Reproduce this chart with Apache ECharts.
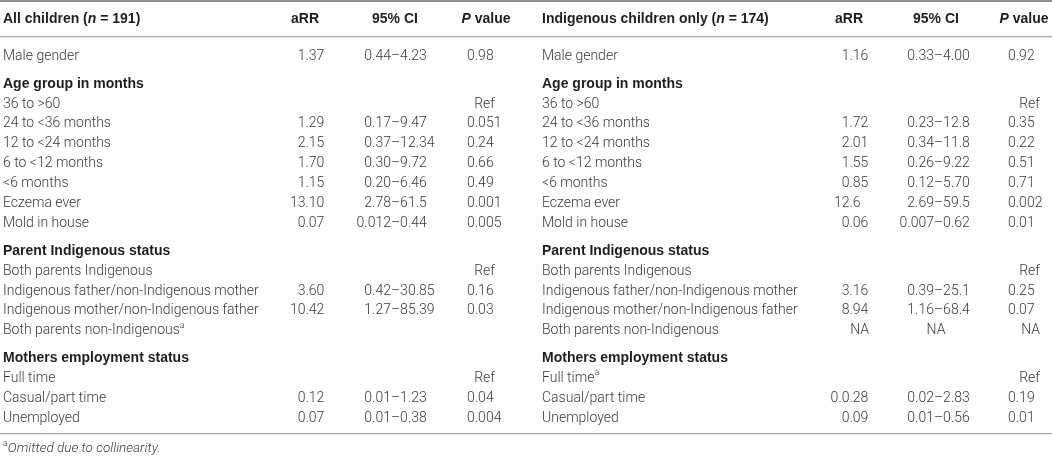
<!DOCTYPE html>
<html><head><meta charset="utf-8">
<script src="https://cdn.jsdelivr.net/npm/echarts@6/dist/echarts.min.js"></script>
<style>html,body{margin:0;padding:0;background:#fff}#c{width:1052px;height:456px}</style>
</head><body><div id="c"></div>
<script>
// ---------- data ----------
const rowLabels = ['Male gender','Age group in months','36 to >60','24 to <36 months','12 to <24 months','6 to <12 months','<6 months','Eczema ever','Mold in house','Parent Indigenous status','Both parents Indigenous','Indigenous father/non-Indigenous mother','Indigenous mother/non-Indigenous father','Both parents non-Indigenous','Mothers employment status','Full time','Casual/part time','Unemployed'];
const sectionRows = [1, 9, 14];
const allNoteRows = [13];
const indNoteRows = [15];
const allTitle = 'All children';
const allN = 191;
const indTitle = 'Indigenous children only';
const indN = 174;
const colHeads = ['aRR', '95% CI', 'P value'];
const allARR = ['1.37','','','1.29','2.15','1.70','1.15','13.10','0.07','','','3.60','10.42','','','','0.12','0.07'];
const allCI  = ['0.44–4.23','','','0.17–9.47','0.37–12.34','0.30–9.72','0.20–6.46','2.78–61.5','0.012–0.44','','','0.42–30.85','1.27–85.39','','','','0.01–1.23','0.01–0.38'];
const allP   = ['0.98','','Ref','0.051','0.24','0.66','0.49','0.001','0.005','','Ref','0.16','0.03','','','Ref','0.04','0.004'];
const indARR = ['1.16','','','1.72','2.01','1.55','0.85','12.6','0.06','','','3.16','8.94','NA','','','0.0.28','0.09'];
const indCI  = ['0.33–4.00','','','0.23–12.8','0.34–11.8','0.26–9.22','0.12–5.70','2.69–59.5','0.007–0.62','','','0.39–25.1','1.16–68.4','NA','','','0.02–2.83','0.01–0.56'];
const indP   = ['0.92','','Ref','0.35','0.22','0.51','0.71','0.002','0.01','','Ref','0.25','0.07','NA','','Ref','0.19','0.01'];
const footnote = 'Omitted due to collinearity.';

// ---------- layout ----------
const W = 1052, H = 456;
const ROW_PX = 19.89, FIRST_PX = 56.3, HEAD_PX = 19.3, FOOT_PX = 449;
const SECTION_GAP = 0.4;
const FONT = 'Roboto, "Helvetica Neue", Arial, sans-serif';
const BFONT = '"Liberation Sans", Arial, Helvetica, sans-serif';
const C_BODY = '#3a3a3a', C_BOLD = '#1e1e1e';
const halves = [
  {title: allTitle, n: allN, aRR: allARR, ci: allCI, p: allP, notes: allNoteRows,
   label: 3, dot: 305.5, arrRight: 325, dash: 391, pLeft: 467, pRight: 495, hARR: 305, hCI: 395, hP: 486},
  {title: indTitle, n: indN, aRR: indARR, ci: indCI, p: indP, notes: indNoteRows,
   label: 542, dot: 849.5, arrRight: 869, dash: 934, pLeft: 1008, pRight: 1040, hARR: 849, hCI: 936, hP: 1024}
];

let acc = 0;
const rowPos = rowLabels.map((l, i) => {
  if (i > 0) { acc += 1; if (sectionRows.includes(i)) acc += SECTION_GAP; }
  return acc;
});
const toRow = px => (px - FIRST_PX) / ROW_PX;

const rich = {
  t: {fontFamily: FONT, fontSize: 14, fontWeight: 300, fill: C_BODY, lineHeight: 20},
  b: {fontFamily: BFONT, fontSize: 14, fontWeight: 'bold', fill: C_BOLD, lineHeight: 20},
  bi: {fontFamily: BFONT, fontSize: 14, fontWeight: 'bold', fontStyle: 'italic', fill: C_BOLD, lineHeight: 20},
  s: {fontFamily: FONT, fontSize: 9, fontWeight: 300, fill: C_BODY, lineHeight: 10, verticalAlign: 'top'},
  i: {fontFamily: FONT, fontSize: 13.5, fontWeight: 300, fontStyle: 'italic', fill: C_BODY, lineHeight: 20}
};

const cells = [];
function add(x, r, text, align) { cells.push({x, r, text, align}); }
const esc = s => s.replace(/[{}|]/g, '');

halves.forEach(h => {
  const hr = toRow(HEAD_PX);
  add(h.label, hr, '{b|' + h.title + ' (}{bi|n}{b| = ' + h.n + ')}', 'left');
  add(h.hARR, hr, '{b|' + colHeads[0] + '}', 'center');
  add(h.hCI, hr, '{b|' + colHeads[1] + '}', 'center');
  const pw = colHeads[2].split(' ');
  add(h.hP, hr, '{bi|' + pw[0] + '}{b| ' + pw.slice(1).join(' ') + '}', 'center');
  rowLabels.forEach((lab, i) => {
    const r = rowPos[i];
    if (sectionRows.includes(i)) { add(h.label, r, '{b|' + esc(lab) + '}', 'left'); return; }
    add(h.label, r, '{t|' + esc(lab) + '}' + (h.notes.includes(i) ? '{s|a}' : ''), 'left');
    const a = h.aRR[i];
    if (a) {
      const k = a.lastIndexOf('.');
      if (k >= 0) { add(h.dot, r, '{t|' + a.slice(0, k) + '}', 'right'); add(h.dot, r, '{t|' + a.slice(k) + '}', 'left'); }
      else add(h.arrRight, r, '{t|' + a + '}', 'right');
    }
    const c = h.ci[i];
    if (c) {
      const k = c.indexOf('–');
      if (k >= 0) { add(h.dash, r, '{t|' + c.slice(0, k) + '}', 'right'); add(h.dash, r, '{t|' + c.slice(k) + '}', 'left'); }
      else add(h.dash + 2, r, '{t|' + c + '}', 'center');
    }
    const p = h.p[i];
    if (p) {
      if (/^\d/.test(p)) add(h.pLeft, r, '{t|' + p + '}', 'left');
      else add(h.pRight, r, '{t|' + p + '}', 'right');
    }
  });
});
add(3, toRow(FOOT_PX), '{s|a}{i|' + footnote + '}', 'left');

const chart = echarts.init(document.getElementById('c'), null, {renderer: 'canvas'});
chart.setOption({
  animation: false,
  backgroundColor: '#fff',
  grid: {left: 0, right: 0, top: 0, bottom: 0},
  xAxis: {type: 'value', min: 0, max: W, show: false},
  yAxis: {type: 'value', inverse: true, min: toRow(0), max: toRow(H), show: false},
  graphic: [
    {type: 'rect', shape: {x: 0, y: 0, width: W, height: 2}, style: {fill: '#8f8f8f'}, silent: true},
    {type: 'rect', shape: {x: 0, y: 36, width: W, height: 1.2}, style: {fill: '#a8a8a8'}, silent: true},
    {type: 'rect', shape: {x: 0, y: 433, width: W, height: 1.2}, style: {fill: '#a8a8a8'}, silent: true}
  ],
  series: [{
    type: 'custom',
    coordinateSystem: 'cartesian2d',
    silent: true,
    clip: false,
    data: cells.map(c => [c.x, c.r]),
    renderItem: (params, api) => {
      const c = cells[params.dataIndex];
      const pt = api.coord([api.value(0), api.value(1)]);
      return {
        type: 'text', x: pt[0], y: pt[1],
        style: {text: c.text, rich: rich, align: c.align, verticalAlign: 'middle',
                fontFamily: FONT, fontSize: 14, fill: C_BODY}
      };
    }
  }]
});
</script>
</body></html>
